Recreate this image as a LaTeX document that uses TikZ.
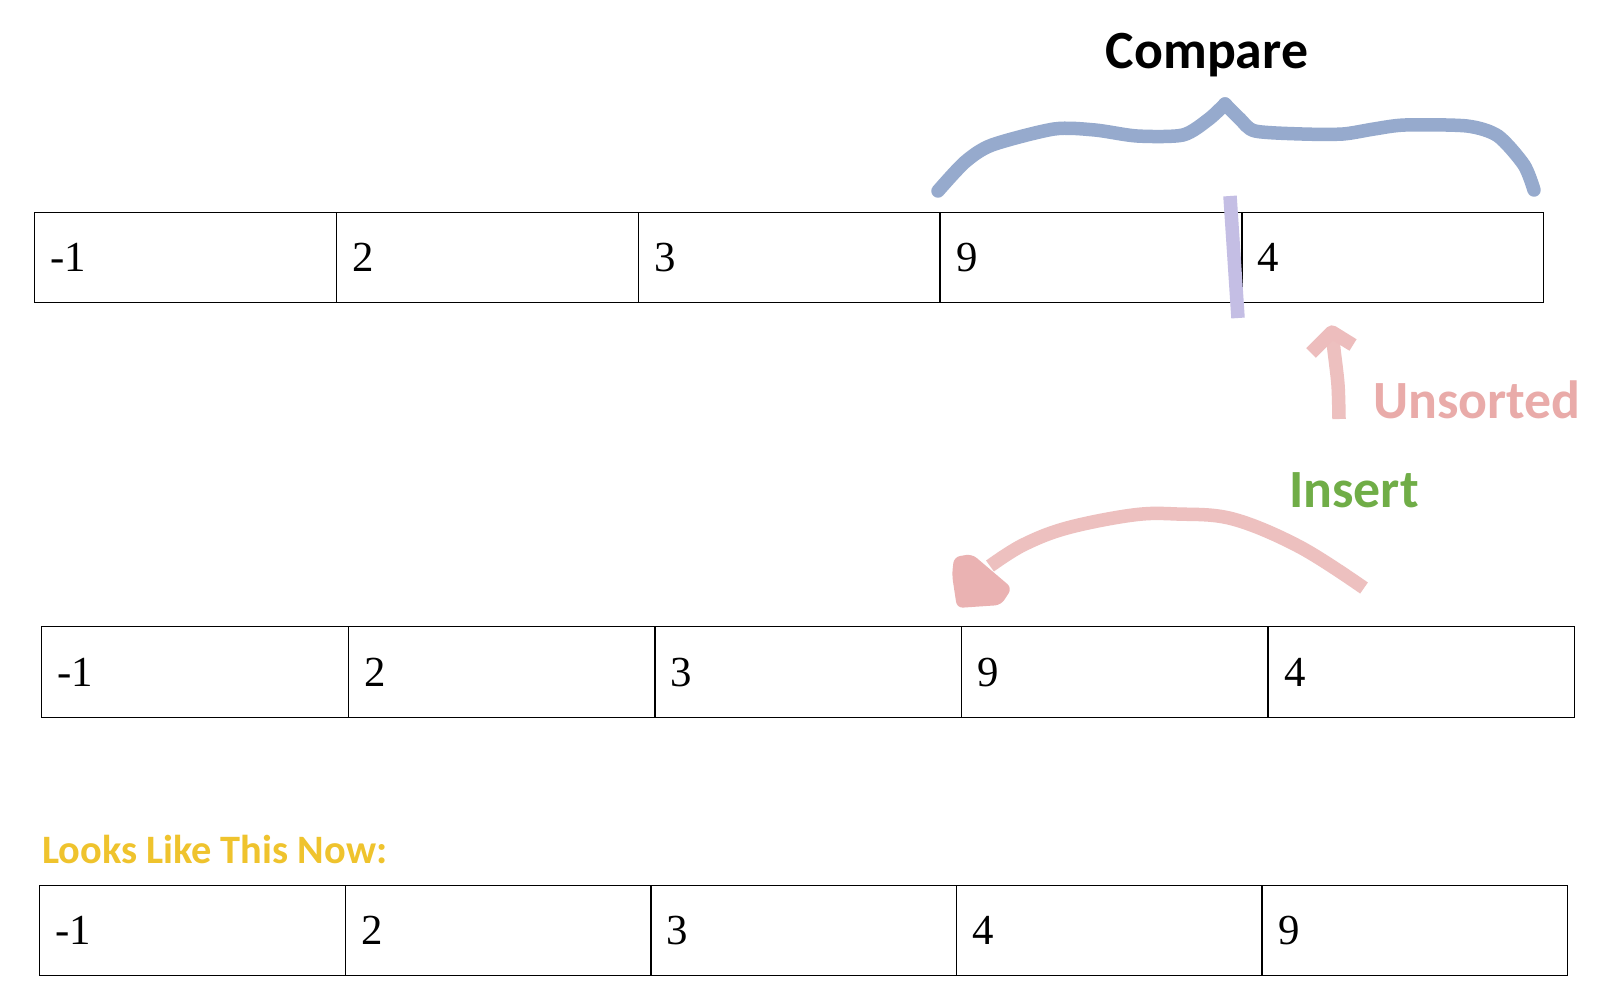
\documentclass[tikz,border=0pt]{standalone}
\usepackage{fontspec}
\setmainfont{Liberation Serif}
\newfontfamily\calib{Carlito}
\newcommand\cellfont{\fontsize{43}{50}\selectfont}
\definecolor{bracecol}{RGB}{150,170,205}
\definecolor{barcol}{RGB}{196,190,228}
\definecolor{pinkcol}{RGB}{237,192,191}
\definecolor{pinkhead}{RGB}{234,178,178}
\definecolor{unsortedcol}{RGB}{233,171,169}
\definecolor{insertcol}{RGB}{112,173,71}
\definecolor{goldcol}{RGB}{239,195,45}
\begin{document}
\begin{tikzpicture}[x=1bp,y=-1bp,
  cell/.style={draw=black, line width=1.4bp, anchor=north west, inner xsep=16bp, inner ysep=0pt, align=left, font=\cellfont},
  rowa/.style={cell, minimum width=301.8bp, text width=269.8bp, minimum height=90bp},
  rowb/.style={cell, minimum width=306.6bp, text width=274.6bp, minimum height=91bp},
  rowc/.style={cell, minimum width=305.6bp, text width=273.6bp, minimum height=90bp},
  title/.style={font=\calib\bfseries\fontsize{54}{60}\selectfont, inner sep=0pt},
  stroke/.style={line width=13.5bp, line cap=round, line join=round}]
\useasboundingbox[fill=white] (0,0) rectangle (1620,1006);

% rows of cells
\foreach \v [count=\i] in {-1,2,3,9,4}
  \node[rowa] (ra\i) at ({34+(\i-1)*301.8},212) {\v};
\foreach \v [count=\i] in {-1,2,3,9,4}
  \node[rowb] (rb\i) at ({41+(\i-1)*306.6},626) {\v};
\foreach \v [count=\i] in {-1,2,3,4,9}
  \node[rowc] (rc\i) at ({39+(\i-1)*305.6},885) {\v};

% labels
\node[title, anchor=base] (compare) at (1207,68) {Compare};
\node[title, anchor=base west, text=unsortedcol] (unsorted) at (1373,418) {Unsorted};
\node[title, anchor=base west, text=insertcol] (insert) at (1289,507) {Insert};
\node[font=\calib\bfseries\fontsize{40.5}{46}\selectfont, inner sep=0pt, anchor=base west, text=goldcol] (looks) at (42,863) {Looks Like This Now:};

% brace
\coordinate (brL) at (938,191);
\coordinate (brR) at (1534,190);
\draw[stroke, bracecol] plot[smooth, tension=0.45] coordinates {(brL) (965,162) (992,145) (1054,129) (1095,130) (1137,136) (1183,135) (1209,119) (1225,104)};
\draw[stroke, bracecol] plot[smooth, tension=0.45] coordinates {(1225,104) (1240,119) (1255,131) (1302,134) (1343,134) (1374,129) (1405,125) (1467,126) (1498,136) (1524,165) (brR)};

% divider bar
\coordinate (barT) at (1230,196);
\coordinate (barB) at (1238,318);
\draw[stroke, barcol, line cap=butt] (barT) -- (barB);

% unsorted arrow
\coordinate (upS) at (1339,419);
\coordinate (upT) at (1332,332);
\draw[stroke, pinkcol, line cap=butt] plot[smooth] coordinates {(upS) (1338,385) (1334,350) (upT)};
\draw[stroke, pinkhead!85!white, line cap=butt] (1311,353) -- (1332,332) -- (1353,345);

% insert arrow
\coordinate (insS) at (1364,588);
\coordinate (insE) at (990,566);
\draw[stroke, pinkcol, line cap=butt] plot[smooth, tension=0.6] coordinates {(insS) (1300,547) (1233,519) (1177,514) (1133,515) (1067,528) (1023,545) (insE)};
\fill[pinkhead, rounded corners=6bp] (954,557) -- (972,554) -- (1012,588) -- (1001,605) -- (957,608) -- (952,575) -- cycle;
\end{tikzpicture}
\end{document}
